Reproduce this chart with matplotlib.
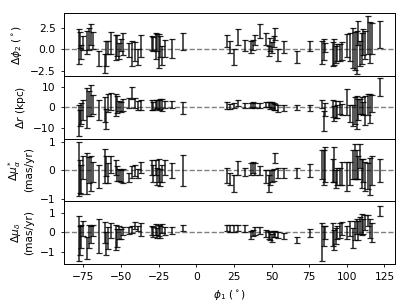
import numpy as np
import matplotlib.pyplot as plt

plt.rcParams['font.size'] = 7.7
plt.rcParams['xtick.major.size'] = 2.5
plt.rcParams['ytick.major.size'] = 2.5
plt.rcParams['xtick.major.width'] = 0.6
plt.rcParams['ytick.major.width'] = 0.6
plt.rcParams['axes.linewidth'] = 0.7

# stream track residuals vs phi1
phi1 = [-78.0, -77.5, -76.5, -75.0, -72.5, -71.5, -70.0, -68.5, -65.0, -61.0,
        -60.0, -58.5, -57.0, -53.5, -52.5, -51.5, -50.0, -48.5, -45.0, -42.5,
        -40.5, -39.0, -36.5, -29.5, -28.5, -27.0, -26.0, -25.0, -24.0, -22.5,
        -20.5, -16.0, -9.0,
        20.5, 22.5, 25.0, 28.0, 32.5, 36.0, 37.5, 39.0, 42.5, 46.0,
        48.0, 49.0, 50.5, 51.5, 52.5, 54.5, 58.0, 67.0, 75.5,
        83.5, 84.5, 85.5, 90.5, 91.5, 92.5, 93.5, 95.5, 97.0, 100.0,
        102.0, 104.0, 105.5, 106.5, 107.5, 108.5, 110.0, 111.0, 112.0, 114.0,
        115.5, 116.5, 122.0]

dphi2 = [0.3, 1.1, -0.3, 0.7, 0.8, 1.2, 1.7, 1.0, -1.1, -1.7,
         -0.5, 0.2, 0.7, 0.2, 0.4, -0.2, 0.5, 0.6, -0.1, -0.5,
         -0.3, -0.9, 0.4, 0.7, 0.6, 0.4, 0.8, -0.2, 0.3, -0.7,
         0.1, 0.1, 0.9,
         1.0, 0.25, -0.9, 1.4, 0.45, 0.25, 0.5, 1.1, 2.1, 1.2,
         -0.2, 0.55, 0.2, 0.9, 1.8, -0.7, 0.25, -0.9, 0.35,
         -0.4, -0.05, 0.2, -0.6, -0.3, -0.6, -0.4, -0.4, -0.2, 0.45,
         0.25, 0.15, -0.2, -0.4, 1.9, -0.5, 0.1, 0.8, 0.5, 1.7,
         0.8, 1.2, 1.7]
dphi2_err = [2.0, 0.9, 0.8, 0.8, 1.3, 1.3, 1.2, 1.0, 0.9, 1.1,
             1.4, 0.7, 1.3, 1.4, 1.2, 0.9, 0.7, 1.3, 0.8, 1.4,
             1.1, 0.9, 1.3, 0.8, 0.8, 1.5, 1.0, 2.0, 1.2, 1.1,
             1.0, 1.1, 1.0,
             0.7, 0.7, 0.9, 0.9, 0.65, 0.7, 0.6, 0.6, 0.8, 0.7,
             0.6, 0.8, 0.6, 0.6, 0.7, 0.7, 0.7, 0.7, 0.6,
             1.3, 1.2, 0.5, 1.4, 1.5, 1.0, 1.0, 1.0, 1.0, 1.3,
             1.6, 2.3, 2.2, 2.5, 1.4, 1.5, 1.8, 1.5, 1.6, 2.2,
             2.4, 1.8, 1.6]

dr = [-6.3, -5.0, -3.0, -1.1, -0.3, 2.0, 3.3, 1.5, -1.1, -0.8,
      -5.5, 2.0, 3.0, 1.1, 1.5, 0.5, 0.0, 1.3, 2.1, 7.0,
      2.1, 1.0, 1.3, 1.3, 0.8, 1.4, 1.8, 1.0, 1.5, 1.2,
      1.5, 1.4, -0.3,
      1.0, 0.5, 0.8, 2.1, 1.0, 1.0, 1.2, 0.9, 1.0, 1.6,
      1.5, 0.8, 1.2, 0.5, 0.3, -0.5, -0.3, 0.0, -0.3,
      1.6, -6.5, -1.0, -0.5, -3.0, -1.0, -2.0, 0.0, -1.0, 2.6,
      -2.9, -3.9, -1.5, -2.5, -1.0, 0.5, 1.0, -0.5, -1.5, 1.5,
      -0.5, 2.0, 10.0]
dr_err = [7.5, 4.0, 5.0, 4.8, 9.5, 6.0, 7.5, 4.7, 4.8, 6.0,
          4.8, 4.3, 4.0, 5.2, 4.0, 2.4, 2.4, 2.8, 2.4, 2.8,
          2.4, 2.0, 2.4, 2.4, 2.0, 2.0, 2.0, 2.4, 2.4, 2.8,
          1.6, 1.6, 2.8,
          1.6, 1.2, 1.2, 1.6, 1.2, 1.2, 1.2, 1.2, 1.2, 1.2,
          1.2, 1.6, 1.4, 1.6, 1.6, 1.6, 1.6, 1.2, 1.6,
          2.0, 4.8, 3.2, 4.0, 3.5, 4.0, 3.0, 3.0, 2.5, 6.3,
          4.0, 5.0, 6.5, 8.0, 5.0, 3.5, 4.0, 3.0, 7.0, 5.0,
          7.0, 4.0, 4.3]

dmua = [0.05, -0.2, -0.3, 0.1, -0.1, 0.0, -0.1, -0.05, -0.2, 0.15,
        0.15, -0.1, 0.2, 0.1, -0.1, -0.15, -0.2, -0.2, -0.25, -0.05,
        0.0, -0.1, 0.1, 0.1, -0.1, 0.1, -0.2, 0.0, -0.25, -0.1,
        0.1, 0.0, 0.0,
        -0.18, -0.3, -0.44, 0.08, -0.05, 0.05, 0.1, 0.05, 0.0, -0.2,
        -0.45, -0.25, -0.2, -0.15, 0.43, -0.1, -0.1, -0.1, 0.0,
        0.2, 0.1, 0.2, 0.0, 0.2, -0.3, -0.2, -0.2, -0.1, -0.2,
        -0.1, 0.2, 0.3, 0.2, 0.1, 0.5, -0.1, 0.0, -0.2, -0.2,
        -0.2, 0.0, 0.0]
dmua_err = [0.95, 0.57, 0.5, 0.4, 0.7, 0.45, 0.6, 0.35, 0.4, 0.58,
            0.35, 0.35, 0.3, 0.25, 0.25, 0.2, 0.2, 0.25, 0.15, 0.2,
            0.2, 0.15, 0.2, 0.25, 0.3, 0.25, 0.3, 0.4, 0.3, 0.3,
            0.25, 0.25, 0.55,
            0.26, 0.2, 0.29, 0.23, 0.15, 0.2, 0.2, 0.2, 0.15, 0.23,
            0.3, 0.25, 0.2, 0.2, 0.17, 0.17, 0.17, 0.17, 0.23,
            0.5, 0.6, 0.6, 0.4, 0.6, 0.3, 0.3, 0.3, 0.4, 0.5,
            0.4, 0.5, 0.6, 0.5, 0.4, 0.4, 0.5, 0.4, 0.5, 0.45,
            0.64, 0.5, 0.4]

dmud = [-0.33, -0.45, -0.2, 0.2, -0.8, -0.2, -0.1, 0.1, -0.2, 0.0,
        -0.6, -0.3, 0.1, -0.25, -0.3, 0.0, -0.1, 0.05, 0.1, 0.15,
        0.35, 0.2, 0.15, 0.1, 0.0, 0.15, -0.05, 0.1, 0.0, 0.2,
        0.05, 0.1, 0.22,
        0.22, 0.2, 0.2, 0.22, 0.2, -0.15, -0.05, 0.05, 0.1, -0.05,
        -0.15, -0.2, -0.3, -0.1, -0.1, -0.15, -0.2, -0.4, -0.05,
        -0.5, -0.2, 0.0, -0.1, -0.4, -0.2, 0.0, 0.1, 0.2, 0.0,
        0.2, -0.3, 0.1, 0.3, 0.1, 0.35, 0.4, 0.3, 0.5, 0.6,
        0.2, 0.0, 1.1]
dmud_err = [1.18, 0.75, 0.6, 0.4, 0.57, 0.6, 0.45, 0.3, 0.88, 0.55,
            0.6, 0.55, 0.4, 0.65, 0.45, 0.35, 0.25, 0.2, 0.17, 0.17,
            0.17, 0.15, 0.35, 0.25, 0.25, 0.3, 0.25, 0.3, 0.3, 0.25,
            0.2, 0.17, 0.17,
            0.17, 0.17, 0.17, 0.17, 0.17, 0.2, 0.15, 0.2, 0.17, 0.17,
            0.2, 0.2, 0.2, 0.17, 0.15, 0.15, 0.17, 0.17, 0.2,
            1.0, 0.5, 0.35, 0.6, 0.5, 0.4, 0.35, 0.4, 0.35, 0.35,
            0.4, 0.5, 0.5, 0.4, 0.5, 0.45, 0.55, 0.4, 0.4, 0.3,
            0.5, 0.5, 0.25]

vals = [dphi2, dr, dmua, dmud]
errs = [dphi2_err, dr_err, dmua_err, dmud_err]
ylabels = [r"$\Delta\phi_2$ ($^\circ$)", r"$\Delta r$ (kpc)",
           "$\\Delta\\mu_\\alpha^*$\n(mas/yr)", "$\\Delta\\mu_\\delta$\n(mas/yr)"]
ylims = [(-3.1, 4.2), (-15, 15.2), (-1.07, 1.1), (-1.65, 1.6)]
yticks = [[-2.5, 0, 2.5], [-10, 0, 10], [-1, 0, 1], [-1, 0, 1]]

fig, axes = plt.subplots(4, 1, sharex=True, figsize=(4.07, 3.05), dpi=100)
fig.subplots_adjust(left=0.157, right=0.9705, bottom=0.134, top=0.957, hspace=0)

for ax, v, e, lab, yl, yt in zip(axes, vals, errs, ylabels, ylims, yticks):
    ax.errorbar(phi1, v, yerr=e, fmt='none', ecolor='k', elinewidth=1.1,
                capsize=2, capthick=0.9, alpha=0.85)
    ax.axhline(0, color='gray', ls='--', lw=1.0, zorder=0)
    ax.set_ylim(yl)
    ax.set_yticks(yt)
    ax.set_ylabel(lab)

axes[-1].set_xlim(-88, 132)
axes[-1].set_xticks([-75, -50, -25, 0, 25, 50, 75, 100, 125])
axes[-1].set_xlabel(r"$\phi_1$ ($^\circ$)")

plt.savefig("out.png", dpi=100)
